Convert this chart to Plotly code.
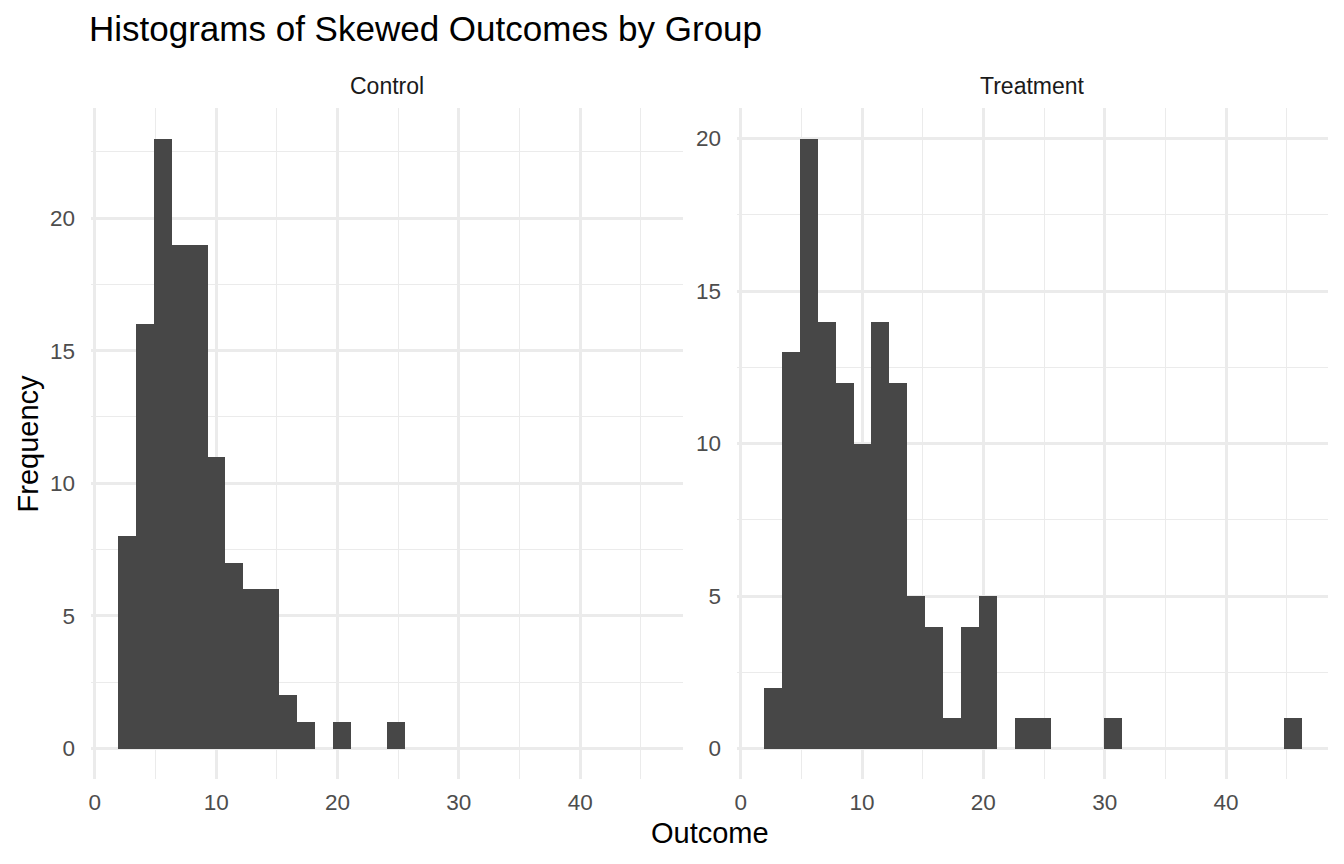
import plotly.graph_objects as go

# histogram bins (30 bins shared by both panels)
bin_start = 1.91
bin_width = 1.477
n_bins = 30

control_counts = [8, 16, 23, 19, 19, 11, 7, 6, 6, 2, 1, 0, 1, 0, 0, 1, 0, 0, 0, 0,
                  0, 0, 0, 0, 0, 0, 0, 0, 0, 0]
treatment_counts = [2, 13, 20, 14, 12, 10, 14, 12, 5, 4, 1, 4, 5, 0, 1, 1, 0, 0, 0, 1,
                    0, 0, 0, 0, 0, 0, 0, 0, 0, 1]

groups = ["Control", "Treatment"]
x_ticks = [0, 10, 20, 30, 40]
y_ticks = [0, 5, 10, 15, 20]

W, H = 1344, 864
FONT = "Liberation Sans, Arial, Helvetica, sans-serif"
BAR = "#474747"
GRID = "#EBEBEB"
TICK_COL = "#4D4D4D"

centers = [bin_start + bin_width * (i + 0.5) for i in range(n_bins)]
x_lo = bin_start
x_hi = bin_start + bin_width * n_bins
pad = 0.05 * (x_hi - x_lo)
x_range = [x_lo - pad, x_hi + pad]

# panel positions in pixels
panel_left = [88.3, 735.6]
panel_w = 592.8
panel_top, panel_bot = 108, 779

fig = go.Figure()

for i, counts in enumerate([control_counts, treatment_counts]):
    ax = "" if i == 0 else "2"
    fig.add_trace(go.Bar(
        x=centers, y=counts, width=bin_width,
        marker=dict(color=BAR, line=dict(width=0)),
        xaxis="x" + ax, yaxis="y" + ax,
        hoverinfo="x+y", showlegend=False,
    ))

layout = dict(
    width=W, height=H,
    margin=dict(l=0, r=0, t=0, b=0),
    paper_bgcolor="white", plot_bgcolor="white",
    font=dict(family=FONT, color=TICK_COL),
    bargap=0,
    showlegend=False,
)

for i in range(2):
    ax = "" if i == 0 else "2"
    top = max(control_counts) if i == 0 else max(treatment_counts)
    ypad = 0.05 * top
    xd = [panel_left[i] / W, (panel_left[i] + panel_w) / W]
    yd = [1 - panel_bot / H, 1 - panel_top / H]
    layout["xaxis" + ax] = dict(
        domain=xd, range=x_range, tickvals=x_ticks, ticktext=[str(t) for t in x_ticks],
        showgrid=True, gridcolor=GRID, gridwidth=2.7, zeroline=False, showline=False,
        minor=dict(dtick=5, tick0=0, showgrid=True, gridcolor=GRID, gridwidth=1.35),
        tickfont=dict(size=22.5, color=TICK_COL), ticks="", ticklabelstandoff=7,
        anchor="y" + ax, fixedrange=True,
    )
    layout["yaxis" + ax] = dict(
        domain=yd, range=[-ypad, top + ypad], tickvals=y_ticks,
        ticktext=[str(t) for t in y_ticks],
        showgrid=True, gridcolor=GRID, gridwidth=2.7, zeroline=False, showline=False,
        minor=dict(dtick=2.5, tick0=0, showgrid=True, gridcolor=GRID, gridwidth=1.35),
        tickfont=dict(size=22.5, color=TICK_COL), ticks="", ticklabelstandoff=15,
        anchor="x" + ax, fixedrange=True,
    )

annotations = [
    dict(text="Histograms of Skewed Outcomes by Group", x=84 / W, y=1 - 29 / H,
         xref="paper", yref="paper", xanchor="left", yanchor="middle",
         showarrow=False, font=dict(size=35, color="black", family=FONT)),
    dict(text="Outcome", x=(panel_left[0] + panel_left[1] + panel_w) / 2 / W, y=1 - 833 / H,
         xref="paper", yref="paper", xanchor="center", yanchor="middle",
         showarrow=False, font=dict(size=29, color="black", family=FONT)),
    dict(text="Frequency", x=25 / W, y=1 - (panel_top + panel_bot) / 2 / H, textangle=-90,
         xref="paper", yref="paper", xanchor="center", yanchor="middle",
         showarrow=False, font=dict(size=29, color="black", family=FONT)),
]
for i, g in enumerate(groups):
    annotations.append(dict(
        text=g, x=(panel_left[i] + panel_w / 2) / W, y=1 - 86 / H,
        xref="paper", yref="paper", xanchor="center", yanchor="middle",
        showarrow=False, font=dict(size=23, color="#1A1A1A", family=FONT)))

layout["annotations"] = annotations
fig.update_layout(**layout)

fig.write_html("out.html", config={"displayModeBar": False},
               post_script="document.body.style.margin='0';")
